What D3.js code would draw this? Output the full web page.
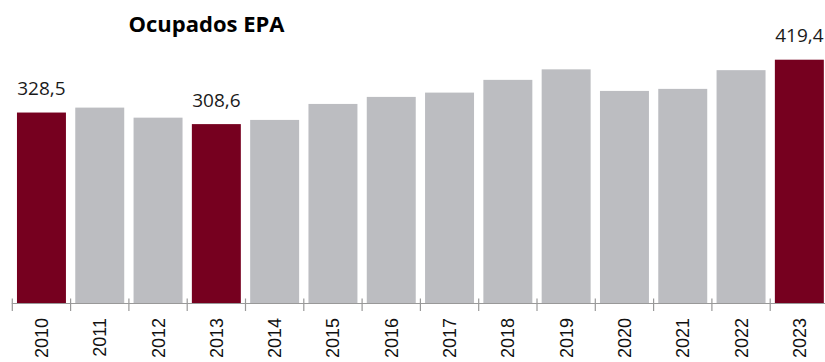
<!DOCTYPE html>
<html>
<head>
<meta charset="utf-8">
<script src="https://cdn.jsdelivr.net/npm/d3@7"></script>
<style>
  html, body { margin: 0; padding: 0; background: #fff; }
  svg { display: block; }
</style>
</head>
<body>
<script>
const years = ["2010","2011","2012","2013","2014","2015","2016","2017","2018","2019","2020","2021","2022","2023"];
const values = [328.5, 337.0, 319.7, 308.6, 315.8, 343.3, 355.4, 362.8, 384.7, 402.8, 365.7, 369.2, 401.4, 419.4];
const highlighted = ["2010", "2013", "2023"];
const title = "Ocupados EPA";

const W = 825, H = 362;
const svg = d3.select("body").append("svg").attr("width", W).attr("height", H);

const baseY = 303.5;
const x = d3.scaleBand().domain(years).range([12.3, 828.5]).paddingInner(0.16).paddingOuter(0.08);
const y = d3.scaleLinear().domain([0, 419.4]).range([baseY, 59.7]);

const fmt = v => d3.format(".1f")(v).replace(".", ",");

svg.selectAll("rect.bar").data(years).enter().append("rect")
  .attr("class", "bar")
  .attr("x", d => x(d))
  .attr("width", x.bandwidth())
  .attr("y", (d, i) => y(values[i]))
  .attr("height", (d, i) => baseY - y(values[i]))
  .attr("fill", d => highlighted.includes(d) ? "#76001F" : "#BCBDC1");

// value labels for highlighted bars
svg.selectAll("text.val").data(years.filter(d => highlighted.includes(d))).enter().append("text")
  .attr("class", "val")
  .attr("x", d => x(d) + x.bandwidth() / 2)
  .attr("y", d => y(values[years.indexOf(d)]) - 17.5)
  .attr("text-anchor", "middle")
  .attr("font-family", "'Open Sans', 'Liberation Sans', sans-serif")
  .attr("font-size", 19)
  .attr("fill", "#1a1a1a")
  .text(d => fmt(values[years.indexOf(d)]));

// axis
const step = x.step();
const off = step * x.paddingOuter();
const axisG = svg.append("g");
axisG.append("line")
  .attr("x1", x(years[0]) - off - 0.5).attr("x2", W)
  .attr("y1", baseY).attr("y2", baseY)
  .attr("stroke", "#999").attr("stroke-width", 1.2);
axisG.selectAll("line.tick").data(years).enter().append("line")
  .attr("class", "tick")
  .attr("x1", d => x(d) - off).attr("x2", d => x(d) - off)
  .attr("y1", baseY - 5).attr("y2", baseY + 7.5)
  .attr("stroke", "#999").attr("stroke-width", 1.2);

axisG.selectAll("text.yr").data(years).enter().append("text")
  .attr("class", "yr")
  .attr("transform", d => `translate(${x(d) + x.bandwidth() / 2 + 6.5},318) rotate(-90)`)
  .attr("text-anchor", "end")
  .attr("font-family", "'Liberation Sans', Arial, sans-serif")
  .attr("font-size", 18)
  .attr("fill", "#111")
  .text(d => d);

svg.append("text")
  .attr("x", 206.5)
  .attr("y", 32)
  .attr("text-anchor", "middle")
  .attr("font-family", "'Open Sans', 'Liberation Sans', sans-serif")
  .attr("font-weight", "bold")
  .attr("font-size", 22)
  .attr("fill", "#000")
  .text(title);
</script>
</body>
</html>
